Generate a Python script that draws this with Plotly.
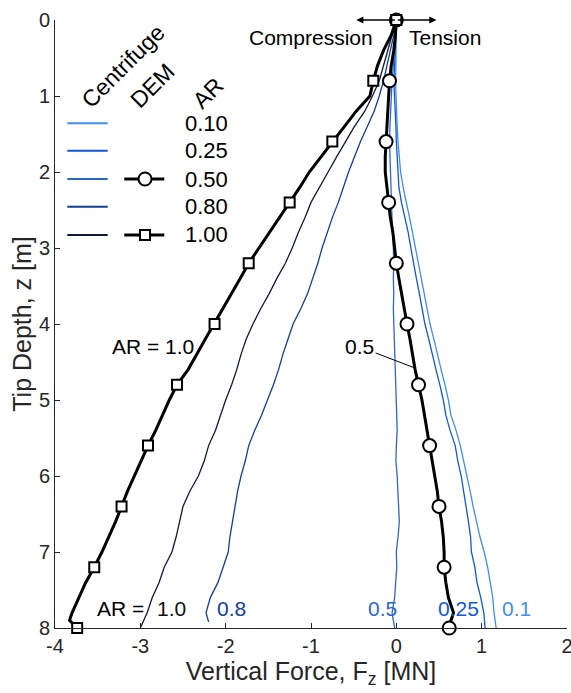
import numpy as np
import plotly.graph_objects as go

FONT = "Liberation Sans, Arial, Helvetica, sans-serif"
INK = "#262626"

# ---------------- centrifuge profiles: tip depth z [m] and vertical force Fz [MN]
CF_Z = [0.0, 0.2, 0.4, 0.6, 0.8, 1.0, 1.2, 1.4, 1.6, 1.8, 2.0, 2.2, 2.4, 2.6, 2.8,
        3.0, 3.2, 3.4, 3.6, 3.8, 4.0, 4.2, 4.4, 4.6, 4.8, 5.0, 5.2, 5.4, 5.6, 5.8,
        6.0, 6.2, 6.4, 6.6, 6.8, 7.0, 7.2, 7.4, 7.6, 7.8, 8.0]

CF_Z_080 = [0.0, 0.2, 0.4, 0.6, 0.8, 1.0, 1.2, 1.4, 1.6, 1.8, 2.0, 2.2, 2.4, 2.6, 2.8,
            3.0, 3.2, 3.4, 3.6, 3.8, 4.0, 4.2, 4.4, 4.6, 4.8, 5.0, 5.2, 5.4, 5.6, 5.8,
            6.0, 6.2, 6.4, 6.6, 6.8, 7.0, 7.2, 7.4, 7.6, 7.8, 7.92]

CF_F_010 = [0.00, 0.00, 0.00, -0.005, -0.01, -0.005, 0.00, 0.01, 0.02, 0.035, 0.05,
            0.08, 0.12, 0.155, 0.19, 0.225, 0.26, 0.295, 0.33, 0.36, 0.395, 0.44,
            0.48, 0.525, 0.57, 0.61, 0.64, 0.70, 0.75, 0.79, 0.83, 0.865, 0.90,
            0.94, 0.98, 1.03, 1.07, 1.10, 1.13, 1.145, 1.17]

CF_F_025 = [0.00, -0.005, -0.01, -0.02, -0.03, -0.02, -0.01, -0.005, 0.00, 0.01, 0.02,
            0.03, 0.06, 0.10, 0.14, 0.17, 0.20, 0.235, 0.27, 0.30, 0.335, 0.38,
            0.42, 0.465, 0.51, 0.55, 0.58, 0.63, 0.69, 0.72, 0.76, 0.79, 0.82,
            0.845, 0.87, 0.88, 0.92, 0.945, 0.99, 1.025, 1.04]

CF_F_050 = [0.00, -0.01, -0.02, -0.035, -0.05, -0.06, -0.07, -0.075, -0.08, -0.075,
            -0.07, -0.065, -0.06, -0.05, -0.045, -0.035, -0.03, -0.035, -0.03, -0.035,
            -0.03, -0.02, -0.02, -0.01, -0.005, 0.00, 0.005, 0.01, 0.00, -0.005,
            0.01, 0.02, 0.03, 0.035, 0.02, 0.00, 0.005, -0.01, -0.02, -0.05, -0.02]

CF_F_080 = [0.00, -0.03, -0.07, -0.11, -0.15, -0.20, -0.26, -0.34, -0.42, -0.49, -0.56,
            -0.62, -0.68, -0.75, -0.81, -0.87, -0.92, -0.98, -1.04, -1.12, -1.21,
            -1.27, -1.33, -1.38, -1.44, -1.51, -1.58, -1.66, -1.73, -1.77, -1.82,
            -1.86, -1.89, -1.92, -1.95, -1.97, -2.03, -2.09, -2.18, -2.23, -2.20]

CF_F_100 = [0.00, -0.05, -0.10, -0.15, -0.20, -0.28, -0.37, -0.49, -0.60, -0.70, -0.80,
            -0.90, -1.00, -1.07, -1.15, -1.22, -1.30, -1.40, -1.49, -1.59, -1.68,
            -1.76, -1.82, -1.87, -1.93, -2.00, -2.06, -2.12, -2.20, -2.25, -2.32,
            -2.42, -2.50, -2.54, -2.58, -2.63, -2.72, -2.78, -2.86, -2.92, -3.00]

# ---------------- DEM profiles
DEM_Z = [0.0, 0.2, 0.4, 0.6, 0.8, 1.0, 1.2, 1.4, 1.6, 1.8, 2.0, 2.2, 2.4, 2.6, 2.8,
         3.0, 3.2, 3.4, 3.6, 3.8, 4.0, 4.2, 4.4, 4.6, 4.8, 5.0, 5.2, 5.4, 5.6, 5.8,
         6.0, 6.2, 6.4, 6.6, 6.8, 7.0, 7.2, 7.4, 7.6, 7.8, 7.9, 8.0]

DEM_F_050 = [0.00, -0.01, -0.03, -0.06, -0.08, -0.09, -0.10, -0.11, -0.12, -0.13, -0.13,
             -0.11, -0.09, -0.07, -0.04, -0.02, 0.00, 0.03, 0.06, 0.09, 0.125, 0.16,
             0.19, 0.22, 0.26, 0.30, 0.33, 0.36, 0.39, 0.42, 0.45, 0.48, 0.50, 0.53,
             0.55, 0.56, 0.56, 0.58, 0.61, 0.67, 0.64, 0.62]

DEM_F_100 = [0.00, -0.06, -0.15, -0.22, -0.27, -0.31, -0.47, -0.61, -0.75, -0.88, -1.02,
             -1.13, -1.25, -1.37, -1.49, -1.61, -1.73, -1.83, -1.93, -2.03, -2.13,
             -2.24, -2.34, -2.44, -2.57, -2.66, -2.74, -2.82, -2.91, -2.99, -3.07,
             -3.15, -3.22, -3.29, -3.37, -3.45, -3.54, -3.64, -3.72, -3.80, -3.83, -3.74]

# depths (m) at which DEM symbols are shown
DEM_MARK_STEP = 0.8

AR_LABELS = ["0.10", "0.25", "0.50", "0.80", "1.00"]
AR_COLORS = ["#3f8ef0", "#1257d6", "#2a69c9", "#113f93", "#0d1a3a"]

X_TICKS = [-4, -3, -2, -1, 0, 1, 2]
Y_TICKS = [0, 1, 2, 3, 4, 5, 6, 7, 8]

# ---------------- page geometry (pixels)
W, H = 571, 693
ML, MR, MT, MB = 55, 4, 20, 65
PW, PH = W - ML - MR, H - MT - MB


def px(x):
    return (x - ML) / PW


def py(y):
    return (H - MB - y) / PH


fig = go.Figure()

cf_series = [(CF_Z, CF_F_010), (CF_Z, CF_F_025), (CF_Z, CF_F_050),
             (CF_Z_080, CF_F_080), (CF_Z, CF_F_100)]
for (z, f), col, lab in zip(cf_series, AR_COLORS, AR_LABELS):
    fig.add_trace(go.Scatter(x=f, y=z, mode="lines", name="Centrifuge AR " + lab,
                             line=dict(color=col, width=1.3), showlegend=False))

dem_z = np.array(DEM_Z)
ratio = dem_z / DEM_MARK_STEP
mark = np.isclose(ratio, np.round(ratio))

for f, sym, size in [(DEM_F_050, "circle", 13), (DEM_F_100, "square", 10)]:
    f = np.array(f)
    fig.add_trace(go.Scatter(x=f, y=dem_z, mode="lines", showlegend=False,
                             line=dict(color="black", width=3), cliponaxis=False))
    fig.add_trace(go.Scatter(x=f[mark], y=dem_z[mark], mode="markers", showlegend=False,
                             marker=dict(symbol=sym, size=size, color="white",
                                         line=dict(color="black", width=2)),
                             cliponaxis=False))

ann = []
shapes = []

# compression / tension double arrow at the pile head
for tip in (-0.47, 0.47):
    ann.append(dict(x=tip, y=0, ax=0, ay=0, xref="x", yref="y", axref="x", ayref="y",
                    text="", showarrow=True, arrowhead=2, arrowsize=1.1,
                    arrowwidth=1.3, arrowcolor="black", standoff=0, startstandoff=0))
ann.append(dict(x=px(375), y=py(37), xref="paper", yref="paper", text="Compression",
                showarrow=False, xanchor="right", yanchor="middle",
                font=dict(size=21, color="black")))
ann.append(dict(x=px(407), y=py(37), xref="paper", yref="paper", text="Tension",
                showarrow=False, xanchor="left", yanchor="middle",
                font=dict(size=21, color="black")))

# curve labels
ann.append(dict(x=-2.85, y=4.30, xref="x", yref="y", text="AR = 1.0", showarrow=False,
                font=dict(size=21, color="black")))
ann.append(dict(x=0.22, y=4.58, ax=-0.43, ay=4.30, xref="x", yref="y", axref="x",
                ayref="y", text="0.5", showarrow=True, arrowhead=0, arrowwidth=1,
                arrowcolor="black", standoff=0, font=dict(size=21, color="black")))

bottom_labels = [(-3.53, "AR =", "black"), (-2.83, "1.0", "#111111"),
                 (-2.12, "0.8", AR_COLORS[3]), (-0.355, "0.5", AR_COLORS[2]),
                 (0.465, "0.25", AR_COLORS[1]), (1.215, "0.1", AR_COLORS[0])]
for x0, t, c in bottom_labels:
    ann.append(dict(x=x0, y=7.74, xref="x", yref="y", text=t, showarrow=False,
                    xanchor="left", yanchor="middle", font=dict(size=21, color=c)))

# hand-built key: rotated headers, sample lines, AR values
for cx, cy, t in [(123, 66, "Centrifuge"), (152, 86, "DEM"), (208, 93, "AR")]:
    ann.append(dict(x=px(cx), y=py(cy), xref="paper", yref="paper", text=t,
                    showarrow=False, textangle=-45, xanchor="center", yanchor="middle",
                    font=dict(size=23, color="black")))

rows = [123.3, 150.7, 179.0, 206.7, 235.0]
for ry, col, lab in zip(rows, AR_COLORS, AR_LABELS):
    shapes.append(dict(type="line", xref="paper", yref="paper", x0=px(67.3), x1=px(107.7),
                       y0=py(ry), y1=py(ry), line=dict(color=col, width=2)))
    ann.append(dict(x=px(230), y=py(ry), xref="paper", yref="paper", text=lab,
                    showarrow=False, xanchor="right", yanchor="middle",
                    font=dict(size=22, color="black")))

for ry, kind, half in [(rows[2], "circle", 6.5), (rows[4], "rect", 5)]:
    shapes.append(dict(type="line", xref="paper", yref="paper", x0=px(124.3), x1=px(164.3),
                       y0=py(ry), y1=py(ry), line=dict(color="black", width=3)))
    shapes.append(dict(type=kind, xref="paper", yref="paper", xsizemode="pixel",
                       ysizemode="pixel", xanchor=px(145), yanchor=py(ry),
                       x0=-half, x1=half, y0=-half, y1=half, fillcolor="white",
                       line=dict(color="black", width=2)))

axis_common = dict(showgrid=False, zeroline=False, showline=True, linecolor=INK,
                   linewidth=1, ticks="inside", ticklen=5, tickwidth=1, tickcolor=INK,
                   tickfont=dict(size=20, color=INK), mirror=False, automargin=False,
                   ticklabeloverflow="allow")

fig.update_layout(
    width=W, height=H,
    margin=dict(l=ML, r=MR, t=MT, b=MB, pad=0, autoexpand=False),
    paper_bgcolor="white", plot_bgcolor="white",
    font=dict(family=FONT, color="black"),
    showlegend=False,
    xaxis=dict(range=[-4, 2], tickvals=X_TICKS, ticktext=[str(v) for v in X_TICKS],
               title=dict(text="Vertical Force, F<sub>z</sub> [MN]",
                          font=dict(size=25, color=INK), standoff=6),
               **axis_common),
    yaxis=dict(range=[8, 0], tickvals=Y_TICKS, ticktext=[str(v) for v in Y_TICKS],
               title=dict(text="Tip Depth, z [m]", font=dict(size=25, color=INK),
                          standoff=0),
               **axis_common),
    annotations=ann,
    shapes=shapes,
)

fig.write_html("out.html")
